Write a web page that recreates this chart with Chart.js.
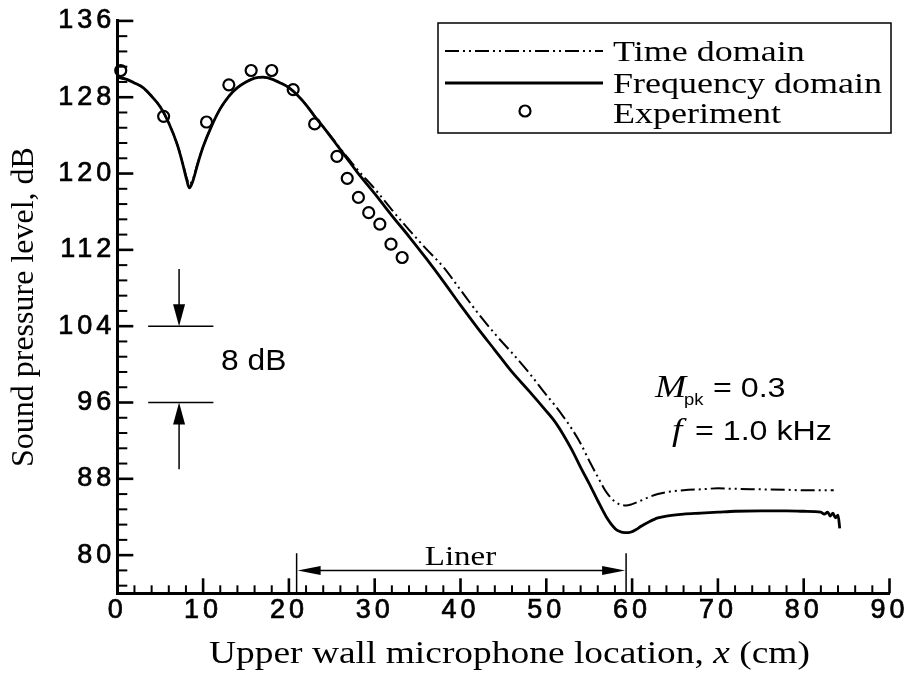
<!DOCTYPE html>
<html>
<head>
<meta charset="utf-8">
<script src="https://cdn.jsdelivr.net/npm/chart.js@4.4.1/dist/chart.umd.min.js"></script>
<style>
  html, body { margin: 0; padding: 0; background: #fff; }
  canvas { display: block; }
</style>
</head>
<body>
<canvas id="spl" width="908" height="674"></canvas>
<script>
// microphone position x (cm) and sound pressure level (dB)
const freqX = [0, 1, 2, 3, 4, 5, 6, 7, 7.6, 8.1, 8.4, 8.8, 9.4, 10, 11, 12, 13, 14, 15, 16, 17, 18, 19, 20, 21, 22, 23, 24, 25, 26, 27, 28,
  30, 32, 34, 36, 38, 40, 42, 44, 46, 48, 50, 51, 52, 53, 54, 55, 56, 57, 58, 58.5, 59.2, 59.8, 60.5, 61, 62, 63, 64,
  66, 68, 70, 72, 75, 78, 80, 82, 82.4, 82.8, 83.1, 83.4, 83.7, 84.0, 84.2];
const freqY = [130.1, 129.9, 129.5, 129.0, 128.1, 127.0, 125.3, 123.0, 121.1, 119.3, 118.5, 119.2, 121.1, 122.8, 125.0, 126.8, 128.1, 129.0,
  129.6, 130.0, 130.1, 129.9, 129.5, 129.0, 128.2, 127.2, 126.0, 124.9, 123.7, 122.5, 121.3, 120.1,
  117.9, 115.6, 113.4, 111.1, 108.7, 106.2, 103.8, 101.5, 99.2, 97.2, 95.1, 94.0, 92.6, 91.0, 89.2, 87.5, 85.7, 84.0, 82.8,
  82.5, 82.35, 82.4, 82.7, 83.0, 83.5, 83.9, 84.1, 84.3, 84.4, 84.5, 84.6, 84.65, 84.65, 84.6, 84.5,
  84.3, 84.5, 84.1, 84.4, 83.9, 84.2, 82.8];

const timeX = [0, 1, 2, 3, 4, 5, 6, 7, 7.6, 8.1, 8.4, 8.8, 9.4, 10, 11, 12, 13, 14, 15, 16, 17, 18, 19, 20, 21, 22, 23, 24, 25, 26, 27, 28,
  30, 32, 34, 36, 38, 40, 42, 44, 46, 48, 50, 51, 52, 53, 54, 55, 56, 57, 58, 58.6, 59.3, 60, 61, 62, 63, 64,
  66, 68, 70, 72, 75, 78, 80, 83.5];
const timeY = [130.1, 129.9, 129.5, 129.0, 128.1, 127.0, 125.3, 123.0, 121.2, 119.5, 118.9, 119.4, 121.2, 122.8, 125.0, 126.8, 128.1, 129.0,
  129.6, 130.0, 130.1, 129.9, 129.5, 129.0, 128.2, 127.2, 126.0, 124.9, 123.8, 122.6, 121.5, 120.4,
  118.4, 116.2, 114.1, 112.1, 110.2, 107.8, 105.4, 103.2, 101.2, 99.1, 96.8, 95.7, 94.5, 93.2, 91.7, 89.9, 88.2, 86.6, 85.6,
  85.3, 85.2, 85.35, 85.7, 86.1, 86.4, 86.6, 86.8, 86.9, 87.0, 86.95, 86.9, 86.85, 86.8, 86.8];

const expX = [0.4, 5.4, 10.4, 13.0, 15.6, 18.0, 20.5, 23.0, 25.6, 26.8, 28.1, 29.3, 30.6, 31.9, 33.2];
const expY = [130.8, 126.0, 125.4, 129.3, 130.8, 130.8, 128.8, 125.2, 121.8, 119.5, 117.5, 115.9, 114.7, 112.6, 111.2];

const xTicks = [0, 10, 20, 30, 40, 50, 60, 70, 80, 90];
const yTicks = [80, 88, 96, 104, 112, 120, 128, 136];
const xMinorStep = 2;
const yMinorStep = 1.6;

const pts = (xs, ys) => xs.map((x, i) => ({ x: x, y: ys[i] }));

const SANS = "'Liberation Sans', Arial, sans-serif";
const SERIF = "'Liberation Serif', 'Times New Roman', serif";
const TIME_DASH = [14, 4, 2, 4, 2, 4];

// draw text stretched horizontally around its anchor
function putText(ctx, str, x, y, font, align, sx) {
  ctx.save();
  ctx.font = font;
  ctx.textAlign = align || 'left';
  ctx.textBaseline = 'alphabetic';
  ctx.translate(x, y);
  ctx.scale(sx || 1, 1);
  ctx.fillText(str, 0, 0);
  ctx.restore();
}
function textW(ctx, str, font, sx) {
  ctx.save();
  ctx.font = font;
  const w = ctx.measureText(str).width * (sx || 1);
  ctx.restore();
  return w;
}
function seg(ctx, x1, y1, x2, y2) {
  ctx.beginPath();
  ctx.moveTo(x1, y1);
  ctx.lineTo(x2, y2);
  ctx.stroke();
}
// filled arrow head, tip at (x, y), pointing along (dx, dy)
function head(ctx, x, y, dx, dy, len, half) {
  const bx = x - dx * len, by = y - dy * len;
  ctx.beginPath();
  ctx.moveTo(x, y);
  ctx.lineTo(bx - dy * half, by + dx * half);
  ctx.lineTo(bx + dy * half, by - dx * half);
  ctx.closePath();
  ctx.fill();
}

const extras = {
  id: 'extras',
  beforeDraw(chart) {
    // tick labels are widely tracked
    chart.ctx.letterSpacing = '4px';
  },
  afterDraw(chart) {
    const ctx = chart.ctx;
    ctx.letterSpacing = '0px';
    const xs = chart.scales.x, ys = chart.scales.y;
    const px = v => xs.getPixelForValue(v);
    const py = v => ys.getPixelForValue(v);
    const area = chart.chartArea;

    ctx.save();
    ctx.strokeStyle = '#000';
    ctx.fillStyle = '#000';

    // inward tick marks
    for (let i = -2; i <= 35; i++) {
      const v = yTicks[0] + i * yMinorStep;
      if (v < ys.min || v > ys.max + 1e-6) continue;
      const major = i % 5 === 0;
      ctx.lineWidth = major ? 2.6 : 2;
      seg(ctx, area.left, py(v), area.left + (major ? 16 : 10), py(v));
    }
    for (let v = xs.min; v <= xs.max + 1e-6; v += xMinorStep) {
      const major = v % 10 === 0;
      ctx.lineWidth = major ? 2.6 : 2;
      seg(ctx, px(v), area.bottom, px(v), area.bottom - (major ? 15 : 8));
    }

    // axis titles
    const tf = '32px ' + SERIF;
    const tfi = 'italic 32px ' + SERIF;
    const st = 1.17;
    let x0 = 209;
    const part1 = 'Upper wall microphone location, ';
    putText(ctx, part1, x0, 663, tf, 'left', st);
    x0 += textW(ctx, part1, tf, st);
    putText(ctx, 'x', x0, 663, tfi, 'left', st);
    x0 += textW(ctx, 'x ', tfi, st);
    putText(ctx, '(cm)', x0, 663, tf, 'left', st);

    ctx.save();
    ctx.translate(33, (area.top + area.bottom) / 2);
    ctx.rotate(-Math.PI / 2);
    ctx.font = tf;
    ctx.textAlign = 'center';
    ctx.fillText('Sound pressure level, dB', 0, 0);
    ctx.restore();

    // legend box
    const ds = chart.data.datasets;
    ctx.lineWidth = 1.5;
    ctx.strokeRect(438, 23, 453, 110);
    const lf = '30px ' + SERIF;
    const rows = [
      { ds: ds[2], y: 51, tb: 61 },
      { ds: ds[1], y: 83, tb: 93 },
      { ds: ds[0], y: 111, tb: 123 }
    ];
    rows.forEach(r => {
      if (r.ds.showLine === false) {
        ctx.lineWidth = r.ds.pointBorderWidth;
        ctx.beginPath();
        ctx.arc(525, r.y, r.ds.pointRadius, 0, Math.PI * 2);
        ctx.stroke();
      } else {
        ctx.save();
        ctx.lineWidth = r.ds.borderWidth;
        ctx.setLineDash(r.ds.borderDash || []);
        seg(ctx, 445, r.y, 603, r.y);
        ctx.restore();
      }
      putText(ctx, r.ds.label, 613, r.tb, lf, 'left', 1.2);
    });

    // 8 dB scale bar
    ctx.lineWidth = 1.5;
    seg(ctx, px(3.6), py(104), px(11.2), py(104));
    seg(ctx, px(3.6), py(96), px(11.2), py(96));
    seg(ctx, px(7.2), py(110), px(7.2), py(104) - 18);
    head(ctx, px(7.2), py(104), 0, 1, 22, 6);
    seg(ctx, px(7.2), py(89), px(7.2), py(96) + 18);
    head(ctx, px(7.2), py(96), 0, -1, 22, 6);
    putText(ctx, '8 dB', 221, 370, '30px ' + SANS, 'left', 1.06);

    // liner extent
    const l1 = 20.9, l2 = 59.3;
    ctx.lineWidth = 1.5;
    seg(ctx, px(l1), py(80.2), px(l1), area.bottom);
    seg(ctx, px(l2), py(80.2), px(l2), area.bottom);
    seg(ctx, px(l1) + 10, py(78.4), px(l2) - 10, py(78.4));
    head(ctx, px(l1) + 1, py(78.4), -1, 0, 23, 4.5);
    head(ctx, px(l2) - 1, py(78.4), 1, 0, 23, 4.5);
    putText(ctx, 'Liner', px(40), py(78.4) - 5, '28px ' + SERIF, 'center', 1.18);

    // flow conditions
    putText(ctx, 'M', 655, 397, 'italic 32px ' + SERIF, 'left', 1.17);
    putText(ctx, 'pk', 684, 405, '16px ' + SANS, 'left', 1.15);
    putText(ctx, '= 0.3', 713, 397, '28px ' + SANS, 'left', 1.15);
    putText(ctx, 'f', 672, 440, 'italic 32px ' + SERIF, 'left', 1.17);
    putText(ctx, '= 1.0 kHz', 695, 440, '28px ' + SANS, 'left', 1.15);

    ctx.restore();
  }
};

const tickFont = { family: SANS, size: 27 };

new Chart(document.getElementById('spl'), {
  type: 'line',
  data: {
    datasets: [
      {
        label: 'Experiment',
        data: pts(expX, expY),
        showLine: false,
        pointStyle: 'circle',
        pointRadius: 5.5,
        pointBorderWidth: 2.2,
        pointBorderColor: '#000',
        pointBackgroundColor: 'rgba(0,0,0,0)',
        borderColor: '#000',
        clip: 10
      },
      {
        label: 'Frequency domain',
        data: pts(freqX, freqY),
        borderColor: '#000',
        borderWidth: 2.8,
        pointRadius: 0,
        cubicInterpolationMode: 'monotone',
        fill: false
      },
      {
        label: 'Time domain',
        data: pts(timeX, timeY),
        borderColor: '#000',
        borderWidth: 2,
        borderDash: TIME_DASH,
        pointRadius: 0,
        cubicInterpolationMode: 'monotone',
        fill: false
      }
    ]
  },
  options: {
    responsive: false,
    animation: false,
    devicePixelRatio: 1,
    layout: { padding: { top: 20.9, right: 18.5, left: 0, bottom: 0 } },
    plugins: {
      legend: { display: false },
      tooltip: { enabled: false }
    },
    scales: {
      x: {
        type: 'linear',
        min: 0,
        max: 90,
        afterBuildTicks: s => { s.ticks = xTicks.map(v => ({ value: v })); },
        afterFit: s => { s.height = 674 - 593.3; },
        grid: { display: false, drawTicks: false },
        border: { display: true, width: 3, color: '#000' },
        ticks: {
          color: '#000',
          padding: 1,
          maxRotation: 0,
          autoSkip: false,
          textStrokeColor: '#000',
          textStrokeWidth: 0.7,
          font: tickFont
        }
      },
      y: {
        min: 76,
        max: 136,
        afterBuildTicks: s => { s.ticks = yTicks.map(v => ({ value: v })); },
        afterFit: s => { s.width = 117.3; },
        grid: { display: false, drawTicks: false },
        border: { display: true, width: 3, color: '#000' },
        ticks: {
          color: '#000',
          padding: 2,
          autoSkip: false,
          textStrokeColor: '#000',
          textStrokeWidth: 0.7,
          font: tickFont
        }
      }
    }
  },
  plugins: [extras]
});
</script>
</body>
</html>
